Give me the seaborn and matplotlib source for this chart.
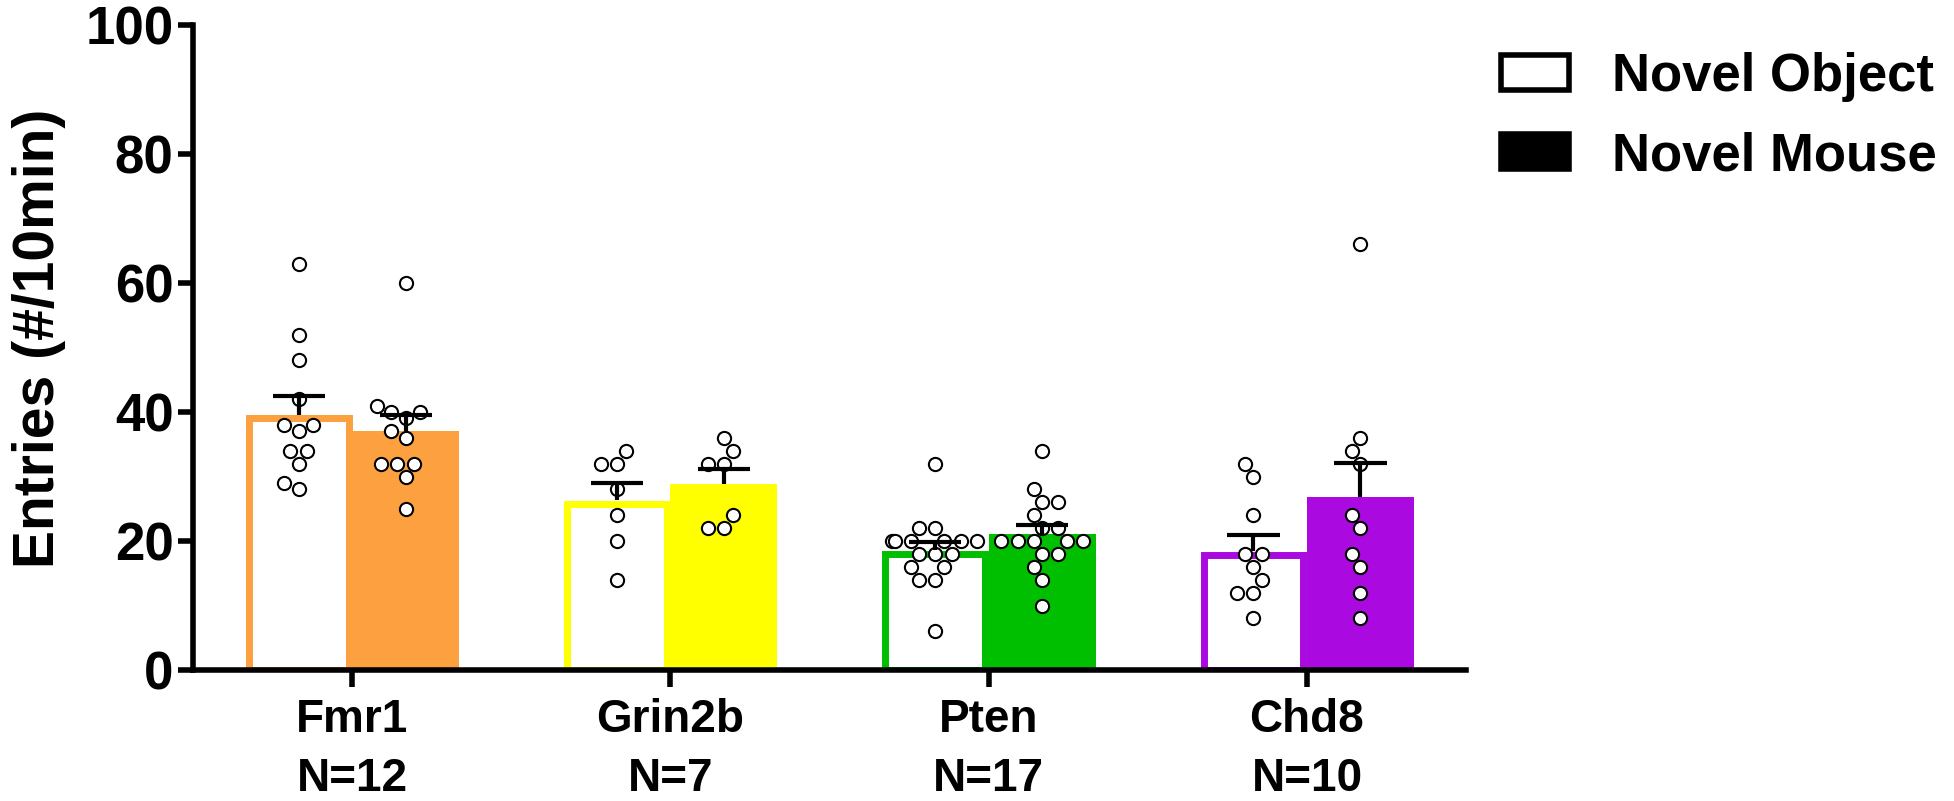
import numpy as np
import pandas as pd
import matplotlib
matplotlib.use("Agg")
import matplotlib.pyplot as plt
from matplotlib.patches import Patch
import seaborn as sns

# -- data --
genes = ["Fmr1", "Grin2b", "Pten", "Chd8"]
conditions = ["Novel Object", "Novel Mouse"]

fmr1_object = [63, 52, 48, 42, 38, 38, 37, 34, 34, 32, 29, 28]
fmr1_mouse = [60, 41, 40, 40, 39, 37, 36, 32, 32, 32, 30, 25]
grin2b_object = [34, 32, 32, 28, 24, 20, 14]
grin2b_mouse = [36, 34, 32, 32, 24, 22, 22]
pten_object = [32, 22, 22, 20, 20, 20, 20, 20, 20, 18, 18, 18, 16, 16, 14, 14, 6]
pten_mouse = [34, 28, 26, 26, 24, 22, 22, 20, 20, 20, 20, 20, 18, 18, 16, 14, 10]
chd8_object = [32, 30, 24, 18, 18, 16, 14, 12, 12, 8]
chd8_mouse = [66, 36, 34, 32, 24, 22, 18, 16, 12, 8]

gene_colors = {"Fmr1": "#FCA040", "Grin2b": "#FFFF00", "Pten": "#00BF00", "Chd8": "#AA0AE0"}

values = {
    ("Fmr1", "Novel Object"): fmr1_object, ("Fmr1", "Novel Mouse"): fmr1_mouse,
    ("Grin2b", "Novel Object"): grin2b_object, ("Grin2b", "Novel Mouse"): grin2b_mouse,
    ("Pten", "Novel Object"): pten_object, ("Pten", "Novel Mouse"): pten_mouse,
    ("Chd8", "Novel Object"): chd8_object, ("Chd8", "Novel Mouse"): chd8_mouse,
}

bar_w = 0.336
offset = {"Novel Object": -bar_w / 2, "Novel Mouse": bar_w / 2}

rows = []
for gi, g in enumerate(genes):
    for c in conditions:
        for v in values[(g, c)]:
            rows.append({"gene": g, "condition": c, "value": v, "pos": round(gi + offset[c], 4)})
df = pd.DataFrame(rows)

sns.set_style("ticks")
plt.rcParams["font.family"] = ["Liberation Sans", "DejaVu Sans"]
plt.rcParams["font.weight"] = "bold"
for k in ["text.color", "axes.labelcolor", "xtick.color", "ytick.color", "axes.edgecolor"]:
    plt.rcParams[k] = "black"

fig = plt.figure(figsize=(19.54, 8.01), dpi=100)
ax = fig.add_axes([0.0988, 0.1635, 0.6515, 0.8053])

obj = df[df.condition == "Novel Object"]
mou = df[df.condition == "Novel Mouse"]

sns.barplot(data=obj, x="pos", y="value", hue="gene", hue_order=genes, palette=gene_colors,
            native_scale=True, width=bar_w, errorbar=None, fill=False, linewidth=5,
            saturation=1, legend=False, ax=ax)
n_obj = len(ax.patches)
sns.barplot(data=mou, x="pos", y="value", hue="gene", hue_order=genes, palette=gene_colors,
            native_scale=True, width=bar_w, errorbar=None, linewidth=0,
            saturation=1, legend=False, ax=ax)

# keep the outline of the open bars inside the bar, like the original
ax.set_xlim(-0.5, 3.5)
ax.set_ylim(0, 100)
dx = 3.5 / (fig.dpi * 19.54 * 0.6515) * 4.0
dy = 3.5 / (fig.dpi * 8.01 * 0.8053) * 100
for p in ax.patches[:n_obj]:
    p.set_x(p.get_x() + dx)
    p.set_width(p.get_width() - 2 * dx)
    p.set_height(p.get_height() - dy)

sns.swarmplot(data=df, x="pos", y="value", native_scale=True, color="white",
              edgecolor="black", linewidth=1.5, size=9.5, ax=ax, zorder=3)

# one-sided SEM bars
stats = df.groupby(["gene", "condition", "pos"])["value"].agg(["mean", "sem"]).reset_index()
top = stats["mean"] + stats["sem"]
ax.vlines(stats["pos"], stats["mean"], top, color="black", lw=3, zorder=5)
ax.hlines(top, stats["pos"] - 0.082, stats["pos"] + 0.082, color="black", lw=3, zorder=5)

counts = df[df.condition == "Novel Object"].groupby("gene").size()
ax.set_xticks(range(len(genes)))
ax.set_xticklabels([f"{g}\nN={counts[g]}" for g in genes], fontsize=33, fontweight="bold",
                   linespacing=1.45)
ax.set_xlim(-0.5, 3.5)
ax.set_ylim(0, 100)
ax.set_yticks(range(0, 101, 20))
ax.tick_params(axis="y", labelsize=38, width=4, length=11, pad=3)
ax.tick_params(axis="x", width=4, length=12, pad=8)
for lab in ax.get_yticklabels():
    lab.set_fontweight("bold")
sns.despine(ax=ax)
for s in ["left", "bottom"]:
    ax.spines[s].set_linewidth(4)
ax.set_xlabel("")
ax.set_ylabel("Entries (#/10min)", fontsize=41, fontweight="bold")
ax.yaxis.set_label_coords(-0.100, 0.515)

handles = [Patch(facecolor="white", edgecolor="black", linewidth=4),
           Patch(facecolor="black", edgecolor="black", linewidth=4)]
fig.legend(handles, conditions, loc="upper left", bbox_to_anchor=(0.7545, 0.968),
           frameon=False, prop={"size": 38, "weight": "bold"}, handlelength=1.3,
           handleheight=0.65, handletextpad=0.8, labelspacing=0.55, borderpad=0)

fig.savefig("out.png", dpi=100)
